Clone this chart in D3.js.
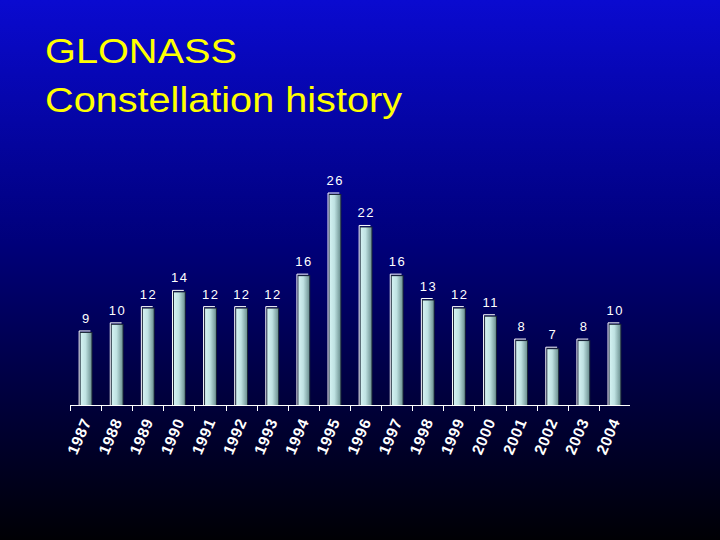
<!DOCTYPE html>
<html>
<head>
<meta charset="utf-8">
<script src="https://cdn.jsdelivr.net/npm/d3@7"></script>
<style>
  html, body { margin: 0; padding: 0; background: #000; }
  svg { display: block; }
</style>
</head>
<body>
<div id="chart"></div>
<script>
// Chart data
const years = ["1987", "1988", "1989", "1990", "1991", "1992", "1993", "1994", "1995",
               "1996", "1997", "1998", "1999", "2000", "2001", "2002", "2003", "2004"];
const satellites = [9, 10, 12, 14, 12, 12, 12, 16, 26, 22, 16, 13, 12, 11, 8, 7, 8, 10];
const titleLines = ["GLONASS", "Constellation history"];

const W = 720, H = 540;
const svg = d3.select("#chart").append("svg")
  .attr("width", W)
  .attr("height", H);

const defs = svg.append("defs");

// background gradient, blue to black
const bg = defs.append("linearGradient").attr("id", "bg")
  .attr("x1", 0).attr("y1", 0).attr("x2", 0).attr("y2", 1);
bg.append("stop").attr("offset", "0%").attr("stop-color", "#0a0ad0");
bg.append("stop").attr("offset", "45%").attr("stop-color", "#00007a");
bg.append("stop").attr("offset", "100%").attr("stop-color", "#000004");

// bar face gradient
const barGrad = defs.append("linearGradient").attr("id", "barGrad")
  .attr("x1", 0).attr("y1", 0).attr("x2", 1).attr("y2", 0);
barGrad.append("stop").attr("offset", "0%").attr("stop-color", "#d4f2f2");
barGrad.append("stop").attr("offset", "45%").attr("stop-color", "#bfe2e2");
barGrad.append("stop").attr("offset", "100%").attr("stop-color", "#6f9494");

svg.append("rect").attr("width", W).attr("height", H).attr("fill", "url(#bg)");

// Title (the original font is wider than Arial, so stretch it)
const titleWidths = [192, 357];
svg.append("g").selectAll("text")
  .data(titleLines)
  .enter().append("text")
  .attr("x", 45)
  .attr("y", (d, i) => 63 + i * 49)
  .attr("textLength", (d, i) => titleWidths[i])
  .attr("lengthAdjust", "spacingAndGlyphs")
  .attr("fill", "#ffff00")
  .style("font-family", "'Liberation Sans', Arial, sans-serif")
  .style("font-size", "35px")
  .text(d => d);

// Scales
const x = d3.scaleBand().domain(years).range([70, 630]).padding(0);
const y = d3.scaleLinear().domain([0, 26]).range([405, 194]);
const barW = x.bandwidth() * 0.38;

const bars = svg.append("g").selectAll("g")
  .data(years)
  .enter().append("g")
  .attr("transform", d => "translate(" + (x(d) + x.bandwidth() / 2 - barW / 2) + ",0)");

// dark outline / shadow
bars.append("rect")
  .attr("x", 0)
  .attr("y", (d, i) => y(satellites[i]))
  .attr("width", barW + 1)
  .attr("height", (d, i) => y(0) - y(satellites[i]))
  .attr("fill", "#1a2636");

// face
bars.append("rect")
  .attr("x", 1)
  .attr("y", (d, i) => y(satellites[i]) + 1)
  .attr("width", barW - 1)
  .attr("height", (d, i) => y(0) - y(satellites[i]) - 1)
  .attr("fill", "url(#barGrad)");

// white highlight on left and top
bars.append("path")
  .attr("d", (d, i) => {
    const t = y(satellites[i]) - 1;
    return "M-0.5," + y(0) + "V" + t + "H" + (barW - 1);
  })
  .attr("fill", "none")
  .attr("stroke", "#ffffff")
  .attr("stroke-width", 1);

// value labels
bars.append("text")
  .attr("x", barW / 2 + 0.75)
  .attr("y", (d, i) => y(satellites[i]) - 9)
  .attr("text-anchor", "middle")
  .attr("fill", "#ffffff")
  .style("font-family", "'Liberation Sans', Arial, sans-serif")
  .style("font-size", "13px")
  .style("letter-spacing", "1.5px")
  .text((d, i) => satellites[i]);

// x axis
const axis = svg.append("g");
axis.append("line")
  .attr("x1", 70).attr("x2", 630)
  .attr("y1", 405.5).attr("y2", 405.5)
  .attr("stroke", "#ffffff");
axis.selectAll("line.tick")
  .data(years)
  .enter().append("line")
  .attr("class", "tick")
  .attr("x1", d => Math.round(x(d)) + 0.5)
  .attr("x2", d => Math.round(x(d)) + 0.5)
  .attr("y1", 405).attr("y2", 411)
  .attr("stroke", "#ffffff");

axis.selectAll("text")
  .data(years)
  .enter().append("text")
  .attr("transform", d => "translate(" + (x(d) + x.bandwidth() / 2 + 1) + ",419) rotate(-67)")
  .attr("text-anchor", "end")
  .attr("dy", "0.35em")
  .attr("fill", "#ffffff")
  .style("font-family", "'Liberation Sans', Arial, sans-serif")
  .style("font-weight", "bold")
  .style("font-size", "15.5px")
  .style("letter-spacing", "0.8px")
  .text(d => d);
</script>
</body>
</html>
